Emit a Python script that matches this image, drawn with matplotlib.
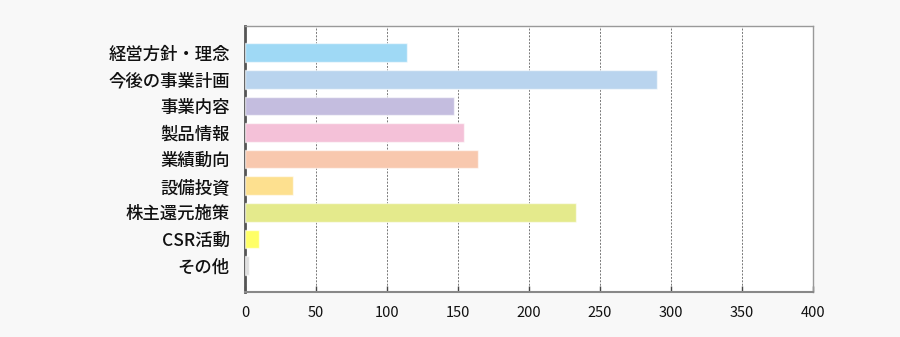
import matplotlib
matplotlib.use("Agg")
import matplotlib.pyplot as plt

plt.rcParams["font.family"] = ["Noto Sans CJK JP", "DejaVu Sans"]

# ── Data ────────────────────────────────────────────────────────────────────
categories = ["経営方針・理念", "今後の事業計画", "事業内容", "製品情報", "業績動向",
              "設備投資", "株主還元施策", "CSR活動", "その他"]
counts = [114, 290, 147, 154, 164, 34, 233, 10, 3]
colors = ["#9fd9f5", "#b9d4ee", "#c4bddf", "#f4c1d8", "#f8c8ae",
          "#fde08f", "#e4ea8c", "#ffff66", "#dedede"]
xticks = [0, 50, 100, 150, 200, 250, 300, 350, 400]

# ── Plot ────────────────────────────────────────────────────────────────────
fig = plt.figure(figsize=(9, 3.37), dpi=100, facecolor="#f8f8f8")
ax = fig.add_axes([0.2722, 0.1335, 0.6311, 0.7893])
ax.set_facecolor("white")

ypos = list(range(len(categories)))
ax.barh(ypos, counts, height=0.7, color=colors,
        edgecolor=(1, 1, 1, 0.6), linewidth=1, zorder=3)

ax.set_ylim(9, -1)
ax.set_xlim(0, 400)
ax.set_yticks(ypos)
ax.set_yticklabels(categories, fontsize=12.5, color="#111111", fontweight="medium")
ax.set_xticks(xticks)
ax.set_xticklabels([str(v) for v in xticks], fontsize=10.5, color="#111111")

ax.tick_params(axis="y", length=0, pad=11)
ax.tick_params(axis="x", length=4, width=1, color="#444444", pad=10, direction="in")

ax.grid(axis="x", linestyle=(0, (2, 1.5)), linewidth=0.7, color="#777777", zorder=0)
ax.set_axisbelow(True)

ax.spines["left"].set_color("#555555")
ax.spines["left"].set_linewidth(2)
ax.spines["bottom"].set_color("#888888")
ax.spines["bottom"].set_linewidth(1.5)
for side in ("top", "right"):
    ax.spines[side].set_color("#999999")
    ax.spines[side].set_linewidth(1)

fig.savefig("out.png", dpi=100, facecolor=fig.get_facecolor())
